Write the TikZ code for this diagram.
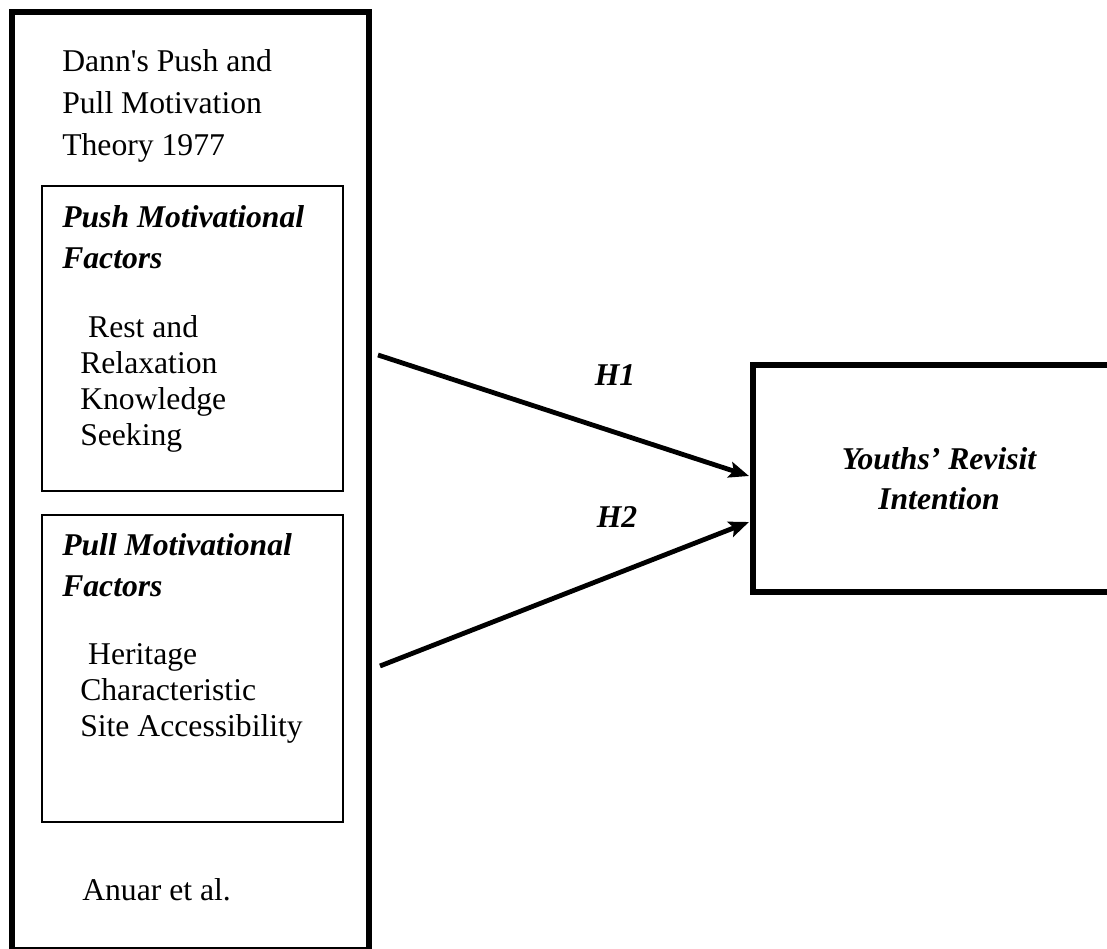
\documentclass[tikz,border=0pt]{standalone}
\usepackage{fontspec}
\setmainfont{Liberation Serif}
\usetikzlibrary{arrows.meta,positioning}
\tikzset{
  outerbox/.style={draw=black,line width=4pt,inner sep=0pt},
  factbox/.style={draw=black,line width=1.1pt,inner sep=0pt,minimum width=225.75pt},
  dvbox/.style={draw=black,line width=4pt,minimum width=279pt,minimum height=170.25pt,align=center,
    font=\bfseries\itshape\fontsize{23.75}{30}\selectfont},
  txt/.style={anchor=north west,inner sep=0pt,align=left,font=\fontsize{23.75}{#1}\selectfont},
  txt/.default=27,
  head/.style={txt,font=\bfseries\itshape\fontsize{23.75}{30.75}\selectfont},
  hyp/.style={anchor=base,inner sep=0pt,font=\bfseries\itshape\fontsize{23.75}{28}\selectfont},
  arr/.style={-{Stealth[length=15pt,width=12pt,inset=3pt]},line width=3.6pt},
}
\begin{document}
\begin{tikzpicture}[x=0.75pt,y=-0.75pt]
  \useasboundingbox (0,0) rectangle (1107,949);
  % boxes
  \node[outerbox,minimum width=267.75pt,minimum height=703.5pt] (theory) at (190.5,481) {};
  \node[factbox,minimum height=228.75pt] (push) at (192.5,338.5) {};
  \node[factbox,minimum height=230.25pt] (pull) at (192.5,668.5) {};
  \node[dvbox] (revisit) at (939,478.5) {Youths’ Revisit\\Intention};
  % texts in the left frame
  \node[txt=31.5] (dann) at (62,49) {Dann\textquotesingle s Push and\\Pull Motivation\\Theory 1977};
  \node[head] (pushhd) at (62,205) {Push Motivational\\Factors};
  \node[txt] (pushit) at (80,315) {\ Rest and\\Relaxation\\Knowledge\\Seeking};
  \node[head] (pullhd) at (62,533) {Pull Motivational\\Factors};
  \node[txt] (pullit) at (80,643) {\ Heritage\\Characteristic\\Site Accessibility};
  \node[txt] (anuar) at (82,878) {Anuar et al.};
  % hypotheses
  \coordinate (h1s) at (378,355);
  \coordinate (h1e) at (749,476);
  \coordinate (h2s) at (380,666);
  \coordinate (h2e) at (749,522);
  \draw[arr] (h1s) -- (h1e);
  \draw[arr] (h2s) -- (h2e);
  \node[hyp] (h1) at (615,385) {H1};
  \node[hyp] (h2) at (617,527) {H2};
\end{tikzpicture}
\end{document}
